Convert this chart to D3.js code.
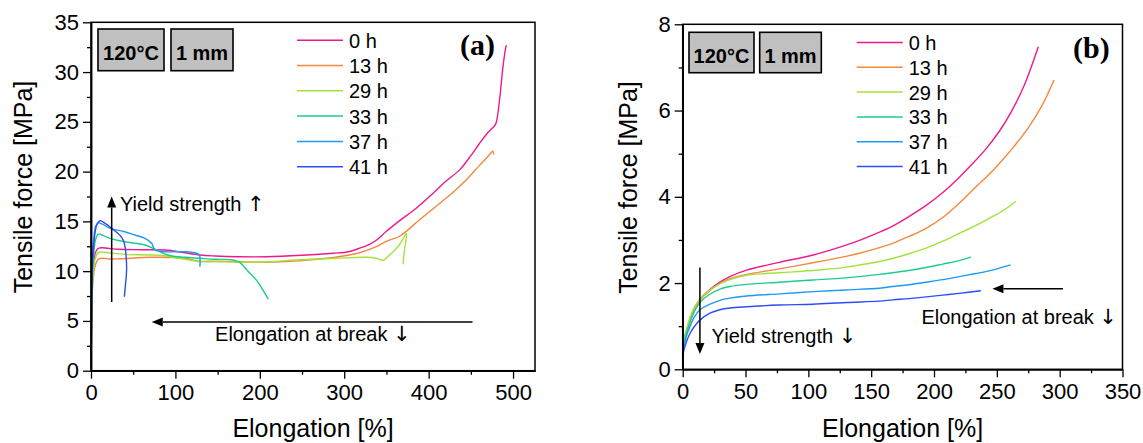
<!DOCTYPE html>
<html><head><meta charset="utf-8">
<script src="https://cdn.jsdelivr.net/npm/d3@7"></script>
<style>
body{margin:0;background:#fff}
svg{display:block}
text{font-family:"Liberation Sans",Arial,sans-serif;fill:#000}
</style>
</head><body>
<svg id="c" width="1143" height="443"></svg>
<script>
// ---------- data ----------
const legendLabels = ["0 h", "13 h", "29 h", "33 h", "37 h", "41 h"];
const seriesColors = ["#ee1a8c", "#f5883c", "#a3e23a", "#1ccc8e", "#1e9af5", "#2d4df8"];
const boxLabels = ["120°C", "1 mm"];
const panelLabels = ["(a)", "(b)"];
const xTitle = "Elongation [%]";
const yTitle = "Tensile force [MPa]";
const annoYield = "Yield strength";
const annoBreak = "Elongation at break";
const arrowUp = "↑";
const arrowDown = "↓";

// panel (a) ticks
const xTicksA = [0, 100, 200, 300, 400, 500];
const xMinorA = [50, 150, 250, 350, 450];
const yTicksA = [0, 5, 10, 15, 20, 25, 30, 35];
const yMinorA = [2.5, 7.5, 12.5, 17.5, 22.5, 27.5, 32.5];
// panel (b) ticks
const xTicksB = [0, 50, 100, 150, 200, 250, 300, 350];
const xMinorB = [25, 75, 125, 175, 225, 275, 325];
const yTicksB = [0, 2, 4, 6, 8];
const yMinorB = [1, 3, 5, 7];

// panel (a) series: [elongation %, tensile force MPa]
const a0h = [[0,0],[0.5,4],[1,7],[2,9.5],[3.5,11],[5,11.8],[8,12.25],[12,12.35],[20,12.3],[32,12.2],[60,12.15],[91,12.1],[129,11.62],[147,11.52],[175,11.45],[208,11.45],[250,11.6],[287,11.8],[305,11.95],[318,12.3],[330,12.7],[338,13.1],[350,14.0],[366,15.1],[385,16.3],[405,17.8],[420,19.0],[437,20.2],[450,21.6],[460,22.8],[470,23.9],[478,24.6],[480,24.9],[484,27.2],[488,30.5],[491,32.3],[492,32.7]];
const a13h = [[0,0],[0.5,3],[1,6],[2,8.5],[4,10.2],[7,11],[10,11.25],[15,11.3],[20.5,11.22],[35,11.25],[72,11.39],[111,11.29],[129,11.0],[147,11.0],[175,10.95],[208,10.9],[247,11.05],[280,11.3],[306,11.62],[320,11.9],[338,12.46],[350,13.0],[366,13.53],[389,15.14],[413,16.8],[430,18.0],[445,19.2],[460,20.6],[470,21.5],[474,21.9],[476,22.05],[477,21.7]];
const a29h = [[0,0],[0.5,3.5],[1,6.5],[2,9],[4,10.9],[7,11.7],[10,11.9],[15,11.9],[40,11.69],[72,11.62],[90,11.5],[111,11.19],[130,10.95],[147,10.95],[175,10.9],[210,10.95],[247.5,11.15],[290,11.3],[326,11.39],[338,11.3],[346,11.1],[352,11.5],[358,11.95],[365,12.6],[370,13.3],[373.8,13.8],[372,12.5],[370.5,11.5],[369.8,10.7]];
const a33h = [[0,0],[0.5,4],[1,7.5],[2,10],[3.5,12],[5.5,13.2],[8.7,13.73],[14,13.6],[22.5,13.3],[40,12.96],[64,12.63],[75.8,12.2],[91.5,11.6],[111,11.39],[129,11.29],[147,11.19],[168.6,11.12],[176.4,10.85],[186,10.0],[196,9.1],[203,8.2],[210,7.2]];
const a37h = [[0,0],[0.5,5],[1,8.5],[2,11.5],[3.5,13.5],[5.5,14.5],[8.7,14.85],[14,14.7],[22.5,14.3],[40,13.96],[52,13.63],[64,13.3],[71.8,12.8],[75.8,12.12],[87.6,11.95],[111,11.95],[125,11.8],[128.5,11.6],[129.2,11.2],[129,10.45]];
const a41h = [[0,0],[0.5,5],[1,8.5],[2,11.3],[2.7,12.1],[4.7,13.8],[7,14.7],[10.7,15.07],[16.6,14.8],[24.5,14.3],[34.3,13.6],[38.3,13.1],[40.5,12.4],[41.5,11.6],[42.2,10.45],[41.8,9.5],[41,8.8],[39.5,7.43]];

// panel (b) series
const b0h = [[0,0],[0.2,0.42],[0.6,0.55],[2,0.78],[3.5,0.94],[5.8,1.15],[9,1.4],[13.7,1.62],[21.7,1.85],[29.6,2.02],[37.5,2.15],[50.8,2.3],[77,2.48],[103.7,2.65],[130,2.88],[140.7,2.99],[156.6,3.18],[167,3.32],[180,3.54],[193.7,3.8],[207,4.1],[220,4.45],[230,4.75],[241,5.1],[252,5.52],[262,6.0],[272,6.6],[283,7.48]];
const b13h = [[0,0],[0.2,0.42],[0.6,0.55],[2,0.78],[3.5,0.94],[5.8,1.15],[9,1.39],[13.7,1.6],[21.7,1.83],[29.6,1.99],[37.5,2.1],[50.8,2.2],[77,2.33],[103.7,2.47],[130,2.62],[140.7,2.69],[156.6,2.82],[167,2.92],[180,3.08],[193.7,3.27],[207,3.52],[220,3.85],[233,4.22],[246.5,4.6],[255,4.87],[263.7,5.17],[275,5.6],[286,6.12],[295.5,6.71]];
const b29h = [[0,0],[0.2,0.45],[0.6,0.58],[2,0.82],[3.5,0.98],[5.8,1.2],[9,1.42],[13.7,1.62],[21.7,1.84],[29.6,1.98],[37.5,2.08],[50.8,2.18],[77,2.24],[103.7,2.29],[130,2.37],[140.7,2.42],[156.6,2.5],[167,2.57],[180,2.68],[193.7,2.81],[207,2.97],[220,3.15],[233,3.33],[246.5,3.54],[256,3.7],[265,3.89]];
const b33h = [[0,0],[0.2,0.4],[0.6,0.52],[2,0.72],[3.5,0.88],[5.8,1.08],[9,1.32],[13.7,1.55],[21.7,1.74],[29.6,1.86],[37.5,1.92],[50.8,1.97],[77,2.02],[103.7,2.07],[130,2.12],[156.6,2.2],[167,2.24],[180,2.29],[193.7,2.36],[207,2.44],[220,2.52],[229.4,2.6]];
const b37h = [[0,0],[0.2,0.36],[0.6,0.47],[2,0.66],[3.5,0.82],[5.8,0.99],[9,1.2],[13.7,1.38],[21.7,1.51],[29.6,1.6],[37.5,1.65],[50.8,1.7],[77,1.75],[103.7,1.8],[130,1.84],[156.6,1.88],[167,1.92],[180,1.96],[193.7,2.02],[207,2.08],[220,2.15],[233,2.22],[246.5,2.3],[261,2.42]];
const b41h = [[0,0],[0.2,0.3],[0.6,0.4],[2,0.55],[3.5,0.68],[5.8,0.83],[9,0.98],[13.7,1.14],[21.7,1.3],[29.6,1.38],[37.5,1.42],[50.8,1.45],[77,1.49],[103.7,1.51],[130,1.55],[156.6,1.58],[167,1.61],[180,1.64],[193.7,1.68],[207,1.72],[220,1.76],[237.3,1.82]];

// ---------- drawing ----------
const svg = d3.select("#c");

function drawPanel(cfg) {
  const x = d3.scaleLinear().domain(cfg.xDomain).range([cfg.left, cfg.right]);
  const y = d3.scaleLinear().domain(cfg.yDomain).range([cfg.bottom, cfg.top]);
  const g = svg.append("g");

  const line = d3.line().x(d => x(d[0])).y(d => y(d[1])).curve(d3.curveCatmullRom.alpha(0.5));
  cfg.series.forEach((s, i) => {
    g.append("path").attr("d", line(s)).attr("fill", "none")
      .attr("stroke", seriesColors[i]).attr("stroke-width", 1.4).attr("stroke-linejoin", "round");
  });

  g.append("rect").attr("x", cfg.left).attr("y", cfg.top)
    .attr("width", cfg.right - cfg.left).attr("height", cfg.bottom - cfg.top)
    .attr("fill", "none").attr("stroke", "#000").attr("stroke-width", 1.5);

  const xa = g.append("g").attr("transform", `translate(0,${cfg.bottom})`)
    .call(d3.axisBottom(x).tickValues(cfg.xTicks).tickSize(8).tickSizeOuter(0).tickPadding(6));
  const xm = g.append("g").attr("transform", `translate(0,${cfg.bottom})`)
    .call(d3.axisBottom(x).tickValues(cfg.xMinor).tickSize(4).tickSizeOuter(0).tickFormat(""));
  const ya = g.append("g").attr("transform", `translate(${cfg.left},0)`)
    .call(d3.axisLeft(y).tickValues(cfg.yTicks).tickSize(8).tickSizeOuter(0).tickPadding(4));
  const ym = g.append("g").attr("transform", `translate(${cfg.left},0)`)
    .call(d3.axisLeft(y).tickValues(cfg.yMinor).tickSize(4).tickSizeOuter(0).tickFormat(""));
  [xa, xm, ya, ym].forEach(a => {
    a.select(".domain").attr("stroke-width", 1.5);
    a.selectAll(".tick line").attr("stroke-width", 1.3);
    a.selectAll("text").style("font-size", "22px").style("font-family", '"Liberation Sans",Arial,sans-serif');
  });

  g.append("text").attr("x", (cfg.left + cfg.right) / 2).attr("y", 437)
    .attr("text-anchor", "middle").style("font-size", "25px").text(xTitle);
  g.append("text").attr("transform", `translate(${cfg.yTitleX},${cfg.yTitleY}) rotate(-90)`)
    .attr("text-anchor", "middle").style("font-size", "25px").text(yTitle);

  cfg.boxes.forEach((b, i) => {
    g.append("rect").attr("x", b.x).attr("y", cfg.boxY).attr("width", b.w).attr("height", cfg.boxH)
      .attr("fill", "#c0c0c0").attr("stroke", "#000").attr("stroke-width", 1.6);
    g.append("text").attr("x", b.x + b.w / 2).attr("y", cfg.boxBase).attr("text-anchor", "middle")
      .style("font-size", "20px").style("font-weight", "bold").text(boxLabels[i]);
  });

  legendLabels.forEach((lab, i) => {
    const by = cfg.legBase + i * cfg.legStep;
    g.append("line").attr("x1", cfg.legX1).attr("x2", cfg.legX2).attr("y1", by - 7.5).attr("y2", by - 7.5)
      .attr("stroke", seriesColors[i]).attr("stroke-width", 1.5);
    g.append("text").attr("x", cfg.legX2 + 6).attr("y", by).style("font-size", "20px").text(lab);
  });

  g.append("text").attr("x", cfg.labX).attr("y", cfg.labY)
    .style("font-family", '"Liberation Serif","Times New Roman",serif').style("font-size", "30px")
    .style("font-weight", "bold").text(cfg.label);

  cfg.arrows.forEach(a => {
    const x1 = x(a.from[0]), y1 = y(a.from[1]), x2 = x(a.to[0]), y2 = y(a.to[1]);
    const ang = Math.atan2(y2 - y1, x2 - x1);
    const L = 11, W = 4.5;
    const bx = x2 - L * Math.cos(ang), by = y2 - L * Math.sin(ang);
    g.append("line").attr("x1", x1).attr("y1", y1).attr("x2", bx).attr("y2", by)
      .attr("stroke", "#000").attr("stroke-width", 1.5);
    const px = -Math.sin(ang) * W, py = Math.cos(ang) * W;
    g.append("path").attr("d", `M${x2},${y2}L${bx + px},${by + py}L${bx - px},${by - py}Z`).attr("fill", "#000");
  });
  cfg.notes.forEach(n => {
    const t = g.append("text").attr("x", x(n.at[0])).attr("y", y(n.at[1])).style("font-size", "20px");
    t.append("tspan").text(n.text + " ");
    t.append("tspan").style("font-family", '"DejaVu Sans",sans-serif').style("font-size", "21px").text(n.arrow);
  });
}

drawPanel({
  xDomain: [0, 526], yDomain: [0, 35],
  left: 91, right: 535, top: 22.3, bottom: 370.7,
  xTicks: xTicksA, xMinor: xMinorA, yTicks: yTicksA, yMinor: yMinorA,
  series: [a0h, a13h, a29h, a33h, a37h, a41h],
  yTitleX: 32, yTitleY: 187,
  boxY: 29, boxH: 41.7, boxBase: 60,
  boxes: [{x: 98, w: 66}, {x: 171, w: 62}],
  legX1: 297, legX2: 343, legBase: 47.7, legStep: 25.3,
  label: panelLabels[0], labX: 460, labY: 55,
  arrows: [{from: [24.5, 6.9], to: [24.5, 17.5]}, {from: [452, 4.9], to: [72, 4.9]}],
  notes: [{at: [34.3, 16.0], text: annoYield, arrow: arrowUp}, {at: [147, 3.0], text: annoBreak, arrow: arrowDown}]
});

drawPanel({
  xDomain: [0, 350], yDomain: [0, 8],
  left: 682.7, right: 1122.5, top: 24.3, bottom: 369.3,
  xTicks: xTicksB, xMinor: xMinorB, yTicks: yTicksB, yMinor: yMinorB,
  series: [b0h, b13h, b29h, b33h, b37h, b41h],
  yTitleX: 637, yTitleY: 187.5,
  boxY: 32.3, boxH: 40.4, boxBase: 63.3,
  boxes: [{x: 689, w: 65}, {x: 759.7, w: 61.6}],
  legX1: 856.7, legX2: 902.7, legBase: 50, legStep: 24.8,
  label: panelLabels[1], labX: 1073, labY: 58.3,
  arrows: [{from: [13.7, 2.36], to: [13.7, 0.355]}, {from: [302.6, 1.87], to: [246.5, 1.87]}],
  notes: [{at: [23, 0.6], text: annoYield, arrow: arrowDown}, {at: [190, 1.05], text: annoBreak, arrow: arrowDown}]
});
</script>
</body></html>
